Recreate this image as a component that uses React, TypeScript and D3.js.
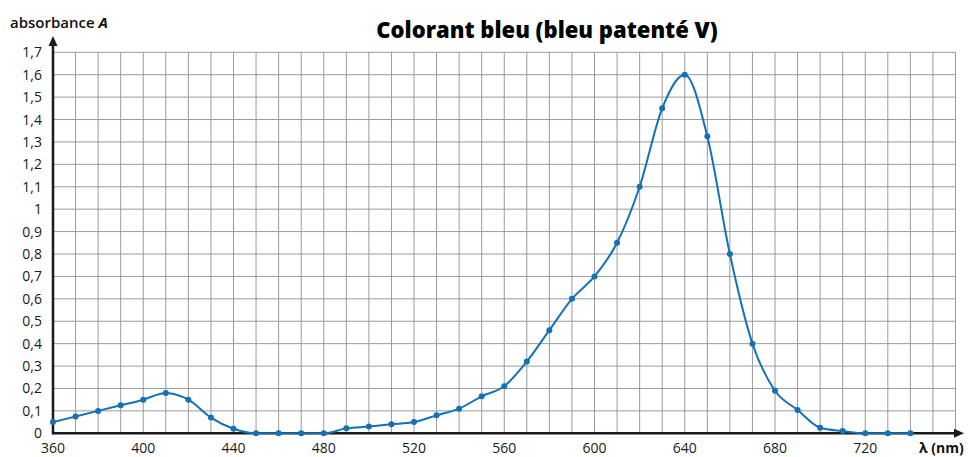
import React from 'react'
import * as d3 from 'd3'

// wavelength (nm) of each measured point
const wavelengths = [
  360, 370, 380, 390, 400, 410, 420, 430, 440, 450, 460, 470, 480, 490, 500, 510, 520, 530, 540, 550,
  560, 570, 580, 590, 600, 610, 620, 630, 640, 650, 660, 670, 680, 690, 700, 710, 720, 730, 740
]
// absorbance
const absorbance = [
  0.05, 0.075, 0.1, 0.125, 0.15, 0.18, 0.15, 0.07, 0.02, 0, 0, 0, 0, 0.022, 0.03, 0.04, 0.05, 0.08, 0.11, 0.165,
  0.21, 0.32, 0.46, 0.6, 0.7, 0.85, 1.1, 1.45, 1.6, 1.325, 0.8, 0.4, 0.19, 0.104, 0.025, 0.01, 0, 0, 0
]
const xTicks = [360, 400, 440, 480, 520, 560, 600, 640, 680, 720]
const yTicks = [0, 0.1, 0.2, 0.3, 0.4, 0.5, 0.6, 0.7, 0.8, 0.9, 1, 1.1, 1.2, 1.3, 1.4, 1.5, 1.6, 1.7]

const W = 968
const H = 457
const FONT = '"Open Sans", Lato, sans-serif'
const BLUE = '#1471b4'

export default function App() {
  const x = d3.scaleLinear().domain([360, 760]).range([53, 955.5])
  const y = d3.scaleLinear().domain([0, 1.7]).range([433.3, 52.3])

  const gridX = d3.range(360, 761, 10)
  const points = wavelengths.map((w, i) => ({ w, a: absorbance[i] }))

  const line = d3.line<{ w: number; a: number }>()
    .x(d => x(d.w))
    .y(d => y(d.a))
    .curve(d3.curveMonotoneX)

  const fmt = (v: number) => d3.format('.1~f')(v).replace('.', ',')

  return (
    <div style={{ position: 'absolute', left: 0, top: 0 }}>
      <svg width={W} height={H} style={{ display: 'block', background: '#fff' }}>
        {/* grid */}
        <g stroke="#9a9a9a" strokeWidth={1}>
          {gridX.map(v => (
            <line key={'gx' + v} x1={x(v)} x2={x(v)} y1={y(1.7)} y2={y(0)} />
          ))}
          {yTicks.map(v => (
            <line key={'gy' + v} x1={x(360)} x2={x(760)} y1={y(v)} y2={y(v)} />
          ))}
        </g>

        {/* axes with arrows */}
        <g stroke="#1a1a1a" strokeWidth={2.5} fill="#1a1a1a">
          <line x1={x(360)} x2={x(360)} y1={y(0) + 1} y2={45} />
          <line x1={x(360) - 1} x2={956} y1={y(0)} y2={y(0)} />
        </g>
        <path d={`M${x(360)},36 L${x(360) - 4.5},46 L${x(360) + 4.5},46 Z`} fill="#1a1a1a" />
        <path d={`M964,${y(0)} L954,${y(0) - 4.5} L954,${y(0) + 4.5} Z`} fill="#1a1a1a" />

        {/* y tick labels */}
        <g fontFamily={FONT} fontSize={14} fill="#1a1a1a" textAnchor="end">
          {yTicks.map(v => (
            <text key={'yl' + v} x={42} y={y(v) + 5}>{fmt(v)}</text>
          ))}
        </g>

        {/* x tick labels */}
        <g fontFamily={FONT} fontSize={14} fill="#1a1a1a" textAnchor="middle">
          {xTicks.map(v => (
            <text key={'xl' + v} x={x(v)} y={453}>{v}</text>
          ))}
        </g>

        {/* data curve */}
        <path d={line(points) || ''} fill="none" stroke={BLUE} strokeWidth={2} />
        <g fill={BLUE}>
          {points.map(p => (
            <circle key={'pt' + p.w} cx={x(p.w)} cy={y(p.a)} r={3} />
          ))}
        </g>

        {/* labels */}
        <text x={10} y={28} fontFamily={FONT} fontSize={15} fontWeight={600} fill="#111">
          absorbance <tspan fontStyle="italic" fontWeight={700}>A</tspan>
        </text>
        <rect x={916} y={438} width={52} height={19} fill="#fff" />
        <text x={919} y={453} fontFamily={FONT} fontSize={14} fontWeight={700} fill="#111">
          λ (nm)
        </text>
        <text x={547} y={38} textAnchor="middle" fontFamily={FONT} fontSize={22} fontWeight={800} fill="#000">
          Colorant bleu (bleu patenté V)
        </text>
      </svg>
    </div>
  )
}
